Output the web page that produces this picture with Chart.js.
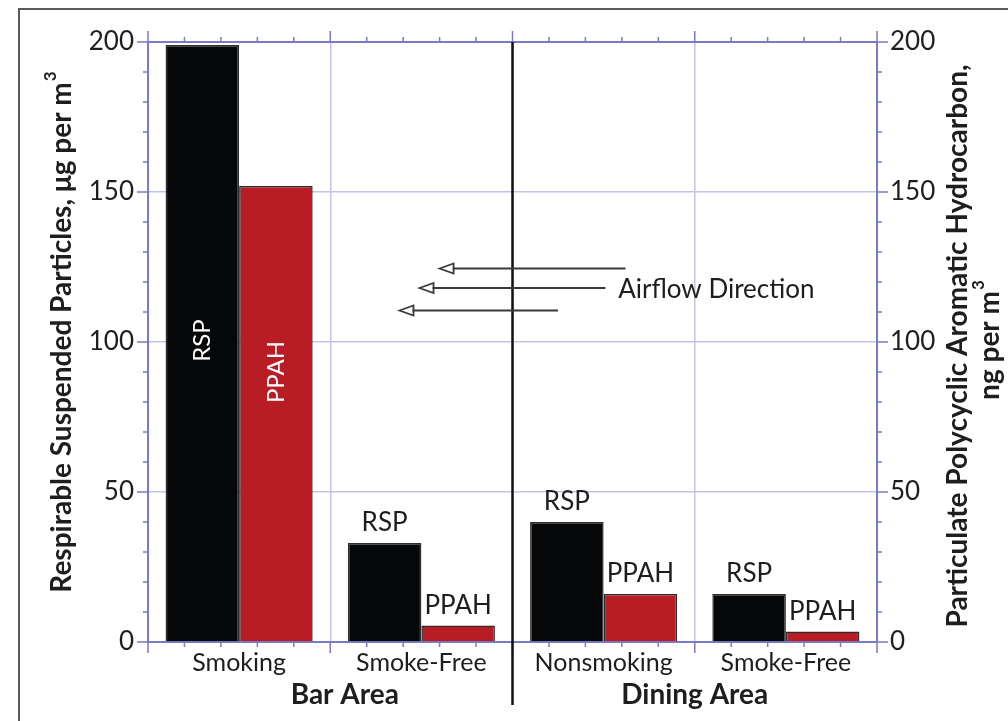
<!DOCTYPE html>
<html>
<head>
<meta charset="utf-8">
<script src="https://cdn.jsdelivr.net/npm/chart.js@4.4.0/dist/chart.umd.min.js"></script>
<style>
  html, body { margin: 0; padding: 0; background: #fff; }
</style>
</head>
<body>
<canvas id="chart" width="1008" height="721"></canvas>
<script>
// --- DATA ---
const categories = ['Smoking', 'Smoke-Free', 'Nonsmoking', 'Smoke-Free'];
const areaLabels = ['Bar Area', 'Dining Area'];
const rspValues = [199, 33, 40, 16];
const ppahValues = [152, 5.5, 16, 3.5];
const seriesNames = ['RSP', 'PPAH'];
const yMax = 200;
const yStep = 50;
// arrows in data units: x = category index, y = value
const airflowArrows = [
    { from: 2.12, to: 1.10, y: 124.5 },
    { from: 2.01, to: 0.99, y: 118 },
    { from: 1.75, to: 0.88, y: 110.5 }
];

const FONT = 'Lato, "Open Sans", sans-serif';
const AXIS = '#7a7ac6';
const GRID = '#c3c3e6';
const TEXT = '#1e1e1e';

// centred text with a raised "3" at the end
function textWithCube(ctx, base, cx, cy, size) {
    ctx.font = 'bold ' + size + 'px ' + FONT;
    const w1 = ctx.measureText(base).width;
    ctx.font = 'bold ' + Math.round(size * 0.62) + 'px ' + FONT;
    const w2 = ctx.measureText('3').width;
    const start = cx - (w1 + w2 + 1) / 2;
    ctx.textAlign = 'left';
    ctx.font = 'bold ' + size + 'px ' + FONT;
    ctx.fillText(base, start, cy);
    ctx.font = 'bold ' + Math.round(size * 0.62) + 'px ' + FONT;
    ctx.fillText('3', start + w1 + 1, cy - size * 0.4);
}

// --- DECORATION PLUGIN ---
const decor = {
    id: 'decor',
    afterDraw(chart) {
        const { ctx, chartArea: a, scales } = chart;
        const x = scales.x, y = scales.y;
        ctx.save();

        // top border
        ctx.strokeStyle = AXIS;
        ctx.lineWidth = 2;
        ctx.beginPath();
        ctx.moveTo(a.left, a.top);
        ctx.lineTo(a.right, a.top);
        ctx.stroke();

        // y ticks, both sides
        ctx.lineWidth = 1.5;
        for (let v = 0; v <= yMax; v += 10) {
            const py = y.getPixelForValue(v);
            const len = v % yStep === 0 ? 11 : 5;
            ctx.beginPath();
            ctx.moveTo(a.left - len, py); ctx.lineTo(a.left, py);
            ctx.moveTo(a.right, py); ctx.lineTo(a.right + len, py);
            ctx.stroke();
        }
        // x ticks, bottom and top
        for (let i = 0; i <= categories.length * 5; i++) {
            const px = x.getPixelForValue(-0.5 + i / 5);
            const len = i % 5 === 0 ? 11 : 5;
            ctx.beginPath();
            ctx.moveTo(px, a.bottom); ctx.lineTo(px, a.bottom + len);
            ctx.moveTo(px, a.top); ctx.lineTo(px, a.top - len);
            ctx.stroke();
        }

        // divider between bar area and dining area
        ctx.strokeStyle = '#111';
        ctx.lineWidth = 2.5;
        const dx = x.getPixelForValue(1.5);
        ctx.beginPath();
        ctx.moveTo(dx, a.top);
        ctx.lineTo(dx, a.bottom + 63);
        ctx.stroke();

        // airflow arrows
        ctx.strokeStyle = '#3a3a3a';
        ctx.lineWidth = 1.8;
        airflowArrows.forEach(ar => {
            const x1 = x.getPixelForValue(ar.from);
            const x2 = x.getPixelForValue(ar.to);
            const py = y.getPixelForValue(ar.y);
            ctx.beginPath();
            ctx.moveTo(x1, py); ctx.lineTo(x2 + 13, py);
            ctx.stroke();
            ctx.beginPath();
            ctx.moveTo(x2, py);
            ctx.lineTo(x2 + 14, py - 5);
            ctx.lineTo(x2 + 14, py + 5);
            ctx.closePath();
            ctx.stroke();
        });
        ctx.fillStyle = TEXT;
        ctx.font = '26px ' + FONT;
        ctx.textAlign = 'left';
        ctx.textBaseline = 'middle';
        ctx.fillText('Airflow Direction', x.getPixelForValue(2.08), y.getPixelForValue(117.3));

        // bar labels
        chart.data.datasets.forEach((ds, di) => {
            const meta = chart.getDatasetMeta(di);
            meta.data.forEach((bar, i) => {
                ctx.textAlign = 'center';
                ctx.textBaseline = 'middle';
                if (i === 0) {
                    ctx.save();
                    ctx.font = '24px ' + FONT;
                    ctx.fillStyle = '#fff';
                    ctx.translate(bar.x, y.getPixelForValue(di === 0 ? 100.5 : 90));
                    ctx.rotate(-Math.PI / 2);
                    ctx.fillText(seriesNames[di], 0, 0);
                    ctx.restore();
                } else {
                    ctx.font = '26px ' + FONT;
                    ctx.fillStyle = TEXT;
                    ctx.fillText(seriesNames[di], bar.x, bar.y - 20);
                }
            });
        });

        // area labels
        ctx.fillStyle = TEXT;
        ctx.font = 'bold 28px ' + FONT;
        ctx.textAlign = 'center';
        ctx.textBaseline = 'middle';
        ctx.fillText(areaLabels[0], x.getPixelForValue(0.58), a.bottom + 53);
        ctx.fillText(areaLabels[1], x.getPixelForValue(2.5), a.bottom + 53);

        // axis titles
        ctx.save();
        ctx.translate(62, 332);
        ctx.rotate(-Math.PI / 2);
        textWithCube(ctx, 'Respirable Suspended Particles, \u03bcg per m', 0, 0, 28);
        ctx.restore();
        ctx.save();
        ctx.translate(958, 346);
        ctx.rotate(-Math.PI / 2);
        ctx.font = 'bold 28px ' + FONT;
        ctx.textAlign = 'center';
        ctx.fillText('Particulate Polycyclic Aromatic Hydrocarbon,', 0, 0);
        textWithCube(ctx, 'ng per m', 6, 32, 28);
        ctx.restore();

        // outer frame
        ctx.strokeStyle = '#5a5a5a';
        ctx.lineWidth = 2;
        ctx.strokeRect(19, 9, 1000, 730);

        ctx.restore();
    }
};

const tickFont = { family: FONT, size: 26 };

new Chart(document.getElementById('chart'), {
    type: 'bar',
    data: {
        labels: categories,
        datasets: [
            { label: seriesNames[0], data: rspValues, backgroundColor: '#060709', borderColor: '#2b2b2b', borderWidth: 1.5 },
            { label: seriesNames[1], data: ppahValues, backgroundColor: '#b81d25', borderColor: '#2b2b2b', borderWidth: 1.5 }
        ]
    },
    options: {
        responsive: false,
        animation: false,
        layout: { padding: { top: 42 } },
        datasets: { bar: { categoryPercentage: 0.807, barPercentage: 1.0 } },
        plugins: { legend: { display: false }, tooltip: { enabled: false } },
        scales: {
            x: {
                offset: true,
                grid: {
                    offset: true,
                    drawTicks: false,
                    lineWidth: 1.5,
                    color: c => (c.index === 0 || c.index === categories.length) ? 'rgba(0,0,0,0)' : GRID
                },
                border: { color: AXIS, width: 2 },
                ticks: { font: { family: FONT, size: 25 }, color: TEXT, padding: 6 },
                afterFit: s => { s.height = 79; }
            },
            y: {
                position: 'left',
                min: 0, max: yMax,
                grid: {
                    drawTicks: false,
                    lineWidth: 1.5,
                    color: c => (c.tick && (c.tick.value === 0 || c.tick.value === yMax)) ? 'rgba(0,0,0,0)' : GRID
                },
                border: { color: AXIS, width: 2 },
                ticks: { stepSize: yStep, font: tickFont, color: TEXT, padding: 14 },
                afterFit: s => { s.width = 148; }
            },
            y2: {
                position: 'right',
                min: 0, max: yMax,
                grid: { drawOnChartArea: false, drawTicks: false },
                border: { color: AXIS, width: 2 },
                ticks: { stepSize: yStep, font: tickFont, color: TEXT, padding: 13 },
                afterFit: s => { s.width = 131; }
            }
        }
    },
    plugins: [decor]
});
</script>
</body>
</html>
